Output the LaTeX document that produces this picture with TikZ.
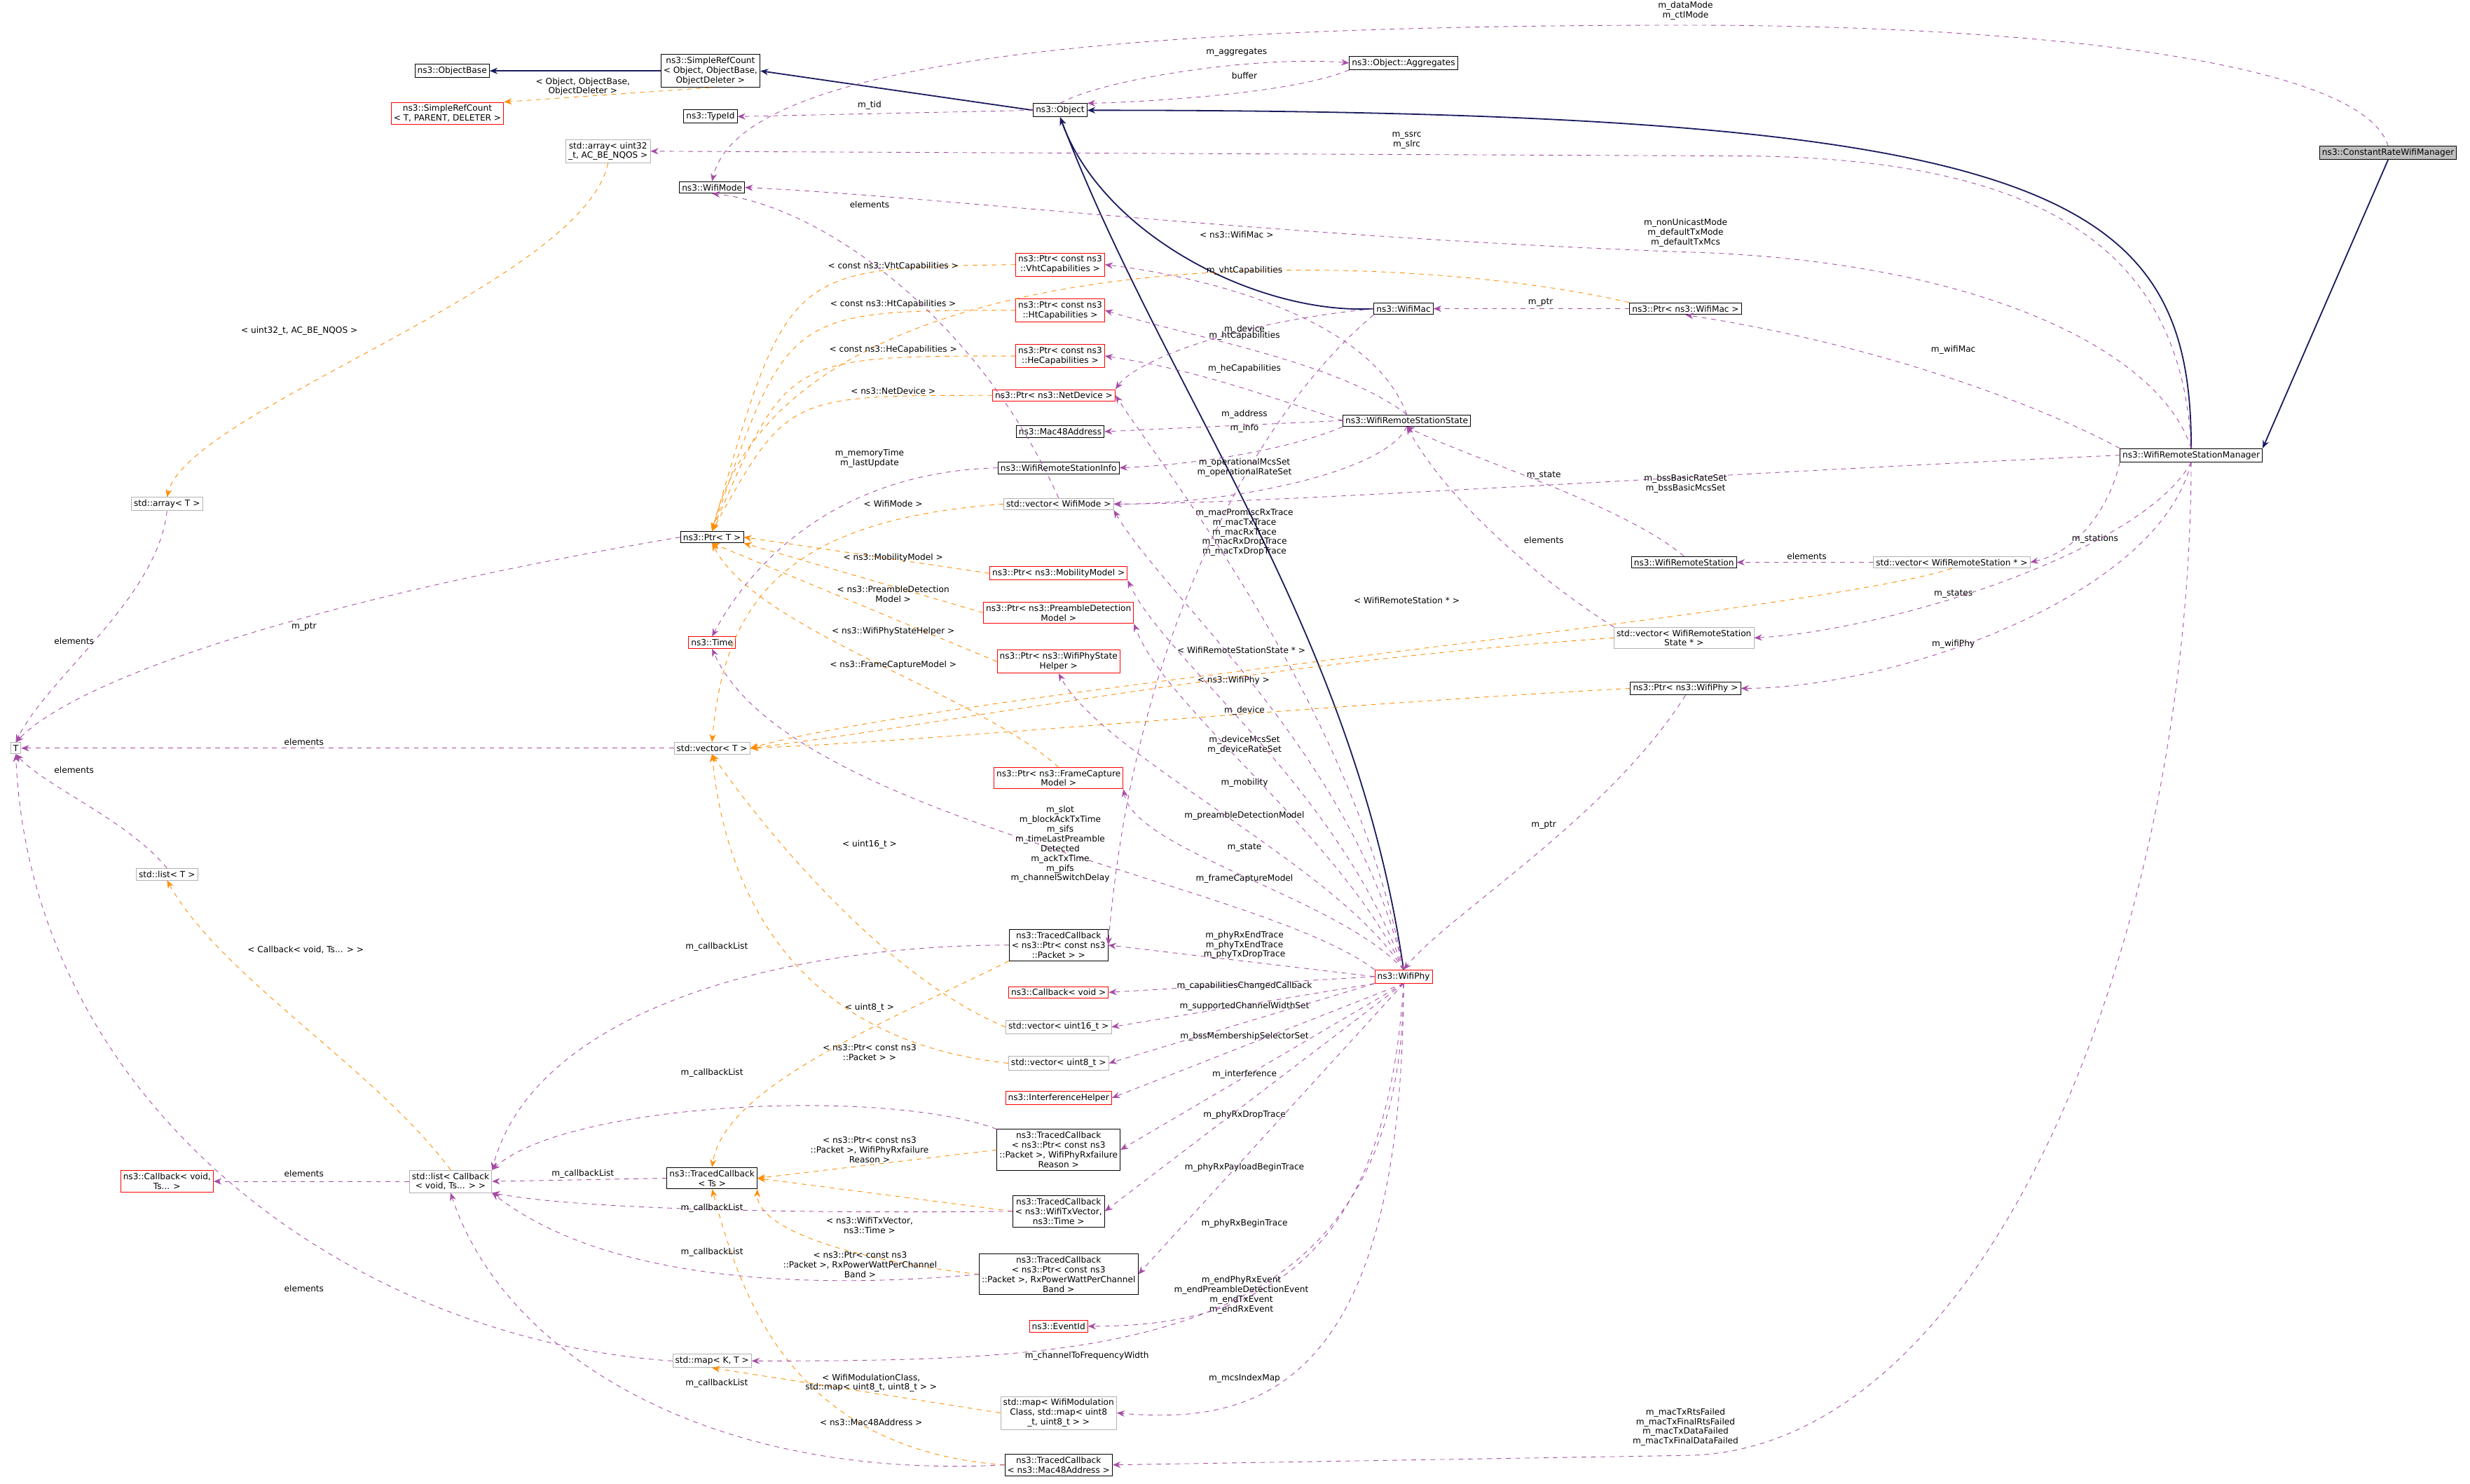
\documentclass[tikz,border=0pt]{standalone}
\usepackage{fontspec}
\setmainfont{DejaVu Sans}
\usetikzlibrary{arrows.meta}
\begin{document}
\begin{tikzpicture}[x=1pt,y=-1pt,
 every node/.style={font=\fontsize{5.4}{6.2}\selectfont},
 cls/.style={draw=black,fill=white,inner sep=1.6pt,align=center},
 red/.style={draw=red,fill=white,inner sep=1.6pt,align=center},
 gry/.style={draw=gray!60,fill=white,inner sep=1.6pt,align=center},
 inh/.style={draw=blue!30!black!90,-{Stealth[length=5pt,width=4pt]},thick},
 mem/.style={draw=violet!70,dashed,-{Stealth[length=5pt,width=4pt]}},
 tpl/.style={draw=orange!90!yellow,dashed,-{Stealth[length=5pt,width=4pt]}},
 lbl/.style={align=center,inner sep=0pt}]
\useasboundingbox (0,0) rectangle (1568,942);
% nodes
\node[cls,fill=gray!50] (crm) at (1516,97) {ns3::ConstantRateWifiManager};
\node[cls] (ob) at (287,45) {ns3::ObjectBase};
\node[cls] (src) at (451,45) {ns3::SimpleRefCount\\< Object, ObjectBase,\\ ObjectDeleter >};
\node[red] (srct) at (284,72) {ns3::SimpleRefCount\\< T, PARENT, DELETER >};
\node[cls] (tid) at (451,74) {ns3::TypeId};
\node[cls] (obj) at (673,70) {ns3::Object};
\node[cls] (agg) at (891,40) {ns3::Object::Aggregates};
\node[gry] (arr32) at (386,96) {std::array< uint32\\\_t, AC\_BE\_NQOS >};
\node[cls] (wm) at (452,119) {ns3::WifiMode};
\node[red] (vht) at (673,168) {ns3::Ptr< const ns3\\::VhtCapabilities >};
\node[red] (ht) at (673,197) {ns3::Ptr< const ns3\\::HtCapabilities >};
\node[red] (he) at (673,226) {ns3::Ptr< const ns3\\::HeCapabilities >};
\node[red] (nd) at (669,251) {ns3::Ptr< ns3::NetDevice >};
\node[cls] (mac48) at (673,274) {ns3::Mac48Address};
\node[cls] (info) at (672,297) {ns3::WifiRemoteStationInfo};
\node[gry] (vwm) at (672,320) {std::vector< WifiMode >};
\node[cls] (ptrt) at (452,341) {ns3::Ptr< T >};
\node[red] (mob) at (672,364) {ns3::Ptr< ns3::MobilityModel >};
\node[red] (pre) at (672,389) {ns3::Ptr< ns3::PreambleDetection\\Model >};
\node[red] (psh) at (672,420) {ns3::Ptr< ns3::WifiPhyState\\Helper >};
\node[red] (time) at (452,408) {ns3::Time};
\node[gry] (vt) at (452,475) {std::vector< T >};
\node[red] (fc) at (672,494) {ns3::Ptr< ns3::FrameCapture\\Model >};
\node[gry] (T) at (10,475) {T};
\node[gry] (arrt) at (106,320) {std::array< T >};
\node[gry] (listt) at (106,555) {std::list< T >};
\node[cls] (mac) at (891,196) {ns3::WifiMac};
\node[cls] (pmac) at (1070,196) {ns3::Ptr< ns3::WifiMac >};
\node[cls] (wrss) at (893,267) {ns3::WifiRemoteStationState};
\node[cls] (wrs) at (1069,357) {ns3::WifiRemoteStation};
\node[gry] (vwrs) at (1239,357) {std::vector< WifiRemoteStation * >};
\node[cls] (wrsm) at (1391,289) {ns3::WifiRemoteStationManager};
\node[gry] (vwrss) at (1069,405) {std::vector< WifiRemoteStation\\State * >};
\node[cls] (pphy) at (1070,437) {ns3::Ptr< ns3::WifiPhy >};
\node[red] (phy) at (891,620) {ns3::WifiPhy};
\node[cls] (tcp) at (672,600) {ns3::TracedCallback\\< ns3::Ptr< const ns3\\::Packet > >};
\node[red] (cbv) at (672,630) {ns3::Callback< void >};
\node[gry] (v16) at (672,652) {std::vector< uint16\_t >};
\node[gry] (v8) at (672,675) {std::vector< uint8\_t >};
\node[red] (ih) at (672,697) {ns3::InterferenceHelper};
\node[cls] (tcf) at (672,730) {ns3::TracedCallback\\< ns3::Ptr< const ns3\\::Packet >, WifiPhyRxfailure\\Reason >};
\node[cls] (tctx) at (672,769) {ns3::TracedCallback\\< ns3::WifiTxVector,\\ns3::Time >};
\node[cls] (tcrx) at (672,809) {ns3::TracedCallback\\< ns3::Ptr< const ns3\\::Packet >, RxPowerWattPerChannel\\Band >};
\node[red] (eid) at (672,842) {ns3::EventId};
\node[gry] (mapkt) at (452,864) {std::map< K, T >};
\node[gry] (mapw) at (672,897) {std::map< WifiModulation\\Class, std::map< uint8\\\_t, uint8\_t > >};
\node[cls] (tcm) at (672,930) {ns3::TracedCallback\\< ns3::Mac48Address >};
\node[cls] (tcts) at (452,748) {ns3::TracedCallback\\< Ts >};
\node[gry] (lcb) at (286,750) {std::list< Callback\\< void, Ts... > >};
\node[red] (cbts) at (106,750) {ns3::Callback< void,\\ Ts... >};
% inheritance
\draw[inh] (src) -- (ob);
\draw[inh] (obj.west) -- (src.east);
\draw[inh] (wrsm.north) .. controls (1391,120) and (1300,70) .. (obj.east);
\draw[inh] (crm.south) -- (wrsm.north east);
\draw[inh] (mac.west) .. controls (800,200) and (700,150) .. (obj.south);
\draw[inh] (phy.north) .. controls (860,400) and (740,250) .. (obj.south);
% templates
\draw[tpl] (src.south) -- (srct.north east);
\node[lbl] at (370,55) {< Object, ObjectBase,\\ObjectDeleter >};
\draw[tpl] (arr32.south) .. controls (370,180) and (120,260) .. (arrt.north);
\node[lbl] at (190,210) {< uint32\_t, AC\_BE\_NQOS >};
\draw[tpl] (pmac.north west) .. controls (900,160) and (500,140) .. (ptrt.north);
\node[lbl] at (785,149) {< ns3::WifiMac >};
\draw[tpl] (vht.west) .. controls (500,170) .. (ptrt.north);
\node[lbl] at (567,169) {< const ns3::VhtCapabilities >};
\draw[tpl] (ht.west) .. controls (500,197) .. (ptrt.north);
\node[lbl] at (567,193) {< const ns3::HtCapabilities >};
\draw[tpl] (he.west) .. controls (500,226) .. (ptrt.north);
\node[lbl] at (567,222) {< const ns3::HeCapabilities >};
\draw[tpl] (nd.west) .. controls (500,251) .. (ptrt.north);
\node[lbl] at (567,248) {< ns3::NetDevice >};
\draw[tpl] (vwm.west) .. controls (500,330) and (460,380) .. (vt.north);
\node[lbl] at (567,320) {< WifiMode >};
\draw[tpl] (mob.west) -- (ptrt.east);
\node[lbl] at (567,354) {< ns3::MobilityModel >};
\draw[tpl] (pre.west) -- (ptrt.south east);
\node[lbl] at (567,377) {< ns3::PreambleDetection\\Model >};
\draw[tpl] (psh.west) -- (ptrt.south);
\node[lbl] at (567,401) {< ns3::WifiPhyStateHelper >};
\draw[tpl] (fc.north) .. controls (620,440) and (480,400) .. (ptrt.south);
\node[lbl] at (567,422) {< ns3::FrameCaptureModel >};
\draw[tpl] (vwrs.south) .. controls (1150,390) and (600,440) .. (vt.east);
\node[lbl] at (893,381) {< WifiRemoteStation * >};
\draw[tpl] (vwrss.west) .. controls (800,420) and (600,460) .. (vt.east);
\node[lbl] at (788,413) {< WifiRemoteStationState * >};
\draw[tpl] (pphy.west) .. controls (800,450) and (600,470) .. (vt.east);
\node[lbl] at (783,432) {< ns3::WifiPhy >};
\draw[tpl] (v16.west) .. controls (560,620) and (480,520) .. (vt.south);
\node[lbl] at (552,536) {< uint16\_t >};
\draw[tpl] (v8.west) .. controls (500,660) and (460,560) .. (vt.south);
\node[lbl] at (552,640) {< uint8\_t >};
\draw[tpl] (tcp.south west) .. controls (560,650) and (460,690) .. (tcts.north);
\node[lbl] at (552,668) {< ns3::Ptr< const ns3\\::Packet > >};
\draw[tpl] (tcf.west) -- (tcts.east);
\node[lbl] at (552,730) {< ns3::Ptr< const ns3\\::Packet >, WifiPhyRxfailure\\Reason >};
\draw[tpl] (tctx.west) -- (tcts.east);
\node[lbl] at (552,778) {< ns3::WifiTxVector,\\ns3::Time >};
\draw[tpl] (tcrx.west) .. controls (540,800) and (480,780) .. (tcts.south east);
\node[lbl] at (546,803) {< ns3::Ptr< const ns3\\::Packet >, RxPowerWattPerChannel\\Band >};
\draw[tpl] (tcm.west) .. controls (500,920) and (470,820) .. (tcts.south);
\node[lbl] at (553,903) {< ns3::Mac48Address >};
\draw[tpl] (mapw.west) -- (mapkt.south);
\node[lbl] at (553,878) {< WifiModulationClass,\\std::map< uint8\_t, uint8\_t > >};
\draw[tpl] (lcb.north) .. controls (240,680) and (140,620) .. (listt.south);
\node[lbl] at (194,603) {< Callback< void, Ts... > >};
% members
\draw[mem] (obj.north) .. controls (700,50) and (800,35) .. (agg.west);
\node[lbl] at (785,33) {m\_aggregates};
\draw[mem] (agg.south west) .. controls (820,60) and (720,65) .. (obj.north east);
\node[lbl] at (790,48) {buffer};
\draw[mem] (obj.west) -- (tid.east);
\node[lbl] at (552,67) {m\_tid};
\draw[mem] (crm.north) .. controls (1500,40) and (1300,16) .. (1070,16) .. controls (700,16) and (470,40) .. (wm.north);
\node[lbl] at (1070,7) {m\_dataMode\\m\_ctlMode};
\draw[mem] (wrsm.north) .. controls (1385,160) and (1300,99) .. (1100,99) -- (arr32.east);
\node[lbl] at (893,89) {m\_ssrc\\m\_slrc};
\draw[mem] (wrsm.north) .. controls (1370,220) and (1250,165) .. (1070,160) .. controls (800,150) and (600,125) .. (wm.east);
\node[lbl] at (1070,148) {m\_nonUnicastMode\\m\_defaultTxMode\\m\_defaultTxMcs};
\draw[mem] (wrsm.north west) .. controls (1300,260) and (1200,220) .. (pmac.south);
\node[lbl] at (1240,222) {m\_wifiMac};
\draw[mem] (wrsm.west) .. controls (1100,300) and (800,320) .. (vwm.east);
\node[lbl] at (1070,307) {m\_bssBasicRateSet\\m\_bssBasicMcsSet};
\draw[mem] (wrsm.south west) .. controls (1340,320) and (1320,350) .. (vwrs.east);
\node[lbl] at (1330,342) {m\_stations};
\draw[mem] (wrsm.south) .. controls (1360,350) and (1200,400) .. (vwrss.east);
\node[lbl] at (1240,377) {m\_states};
\draw[mem] (wrsm.south) .. controls (1370,380) and (1200,437) .. (pphy.east);
\node[lbl] at (1240,409) {m\_wifiPhy};
\draw[mem] (wrsm.south) .. controls (1390,600) and (1260,922) .. (1070,924) -- (tcm.east);
\node[lbl] at (1070,906) {m\_macTxRtsFailed\\m\_macTxFinalRtsFailed\\m\_macTxDataFailed\\m\_macTxFinalDataFailed};
\draw[mem] (mac.south west) .. controls (800,260) and (720,400) .. (tcp.east);
\node[lbl] at (790,338) {m\_macPromiscRxTrace\\m\_macTxTrace\\m\_macRxTrace\\m\_macRxDropTrace\\m\_macTxDropTrace};
\draw[mem] (pmac.west) -- (mac.east);
\node[lbl] at (978,192) {m\_ptr};
\draw[mem] (mac.west) .. controls (780,205) and (720,230) .. (nd.north east);
\node[lbl] at (790,209) {m\_device};
\draw[mem] (wrss.north) .. controls (870,200) and (760,175) .. (vht.east);
\node[lbl] at (790,172) {m\_vhtCapabilities};
\draw[mem] (wrss.north) .. controls (850,230) and (760,215) .. (ht.east);
\node[lbl] at (790,213) {m\_htCapabilities};
\draw[mem] (wrss.west) .. controls (800,250) and (760,235) .. (he.east);
\node[lbl] at (790,234) {m\_heCapabilities};
\draw[mem] (wrss.west) -- (mac48.east);
\node[lbl] at (790,263) {m\_address};
\draw[mem] (wrss.south west) .. controls (820,285) and (760,295) .. (info.east);
\node[lbl] at (790,272) {m\_info};
\draw[mem] (wrss.south) .. controls (880,300) and (780,320) .. (vwm.east);
\node[lbl] at (790,297) {m\_operationalMcsSet\\m\_operationalRateSet};
\draw[mem] (wrs.north) .. controls (1030,320) and (930,290) .. (wrss.south);
\node[lbl] at (980,302) {m\_state};
\draw[mem] (vwrs.west) -- (wrs.east);
\node[lbl] at (1147,353) {elements};
\draw[mem] (vwrss.north west) .. controls (980,370) and (920,320) .. (wrss.south);
\node[lbl] at (980,343) {elements};
\draw[mem] (info.west) .. controls (520,300) and (470,370) .. (time.north);
\node[lbl] at (552,291) {m\_memoryTime\\m\_lastUpdate};
\draw[mem] (vwm.north) .. controls (620,200) and (520,130) .. (wm.south);
\node[lbl] at (552,130) {elements};
\draw[mem] (ptrt.west) .. controls (200,380) and (50,430) .. (T.north);
\node[lbl] at (193,398) {m\_ptr};
\draw[mem] (vt.west) -- (T.east);
\node[lbl] at (193,471) {elements};
\draw[mem] (arrt.south) .. controls (100,380) and (30,430) .. (T.north);
\node[lbl] at (47,407) {elements};
\draw[mem] (listt.north) .. controls (80,520) and (30,500) .. (T.south);
\node[lbl] at (47,489) {elements};
\draw[mem] (mapkt.west) .. controls (220,850) and (20,700) .. (T.south);
\node[lbl] at (193,818) {elements};
\draw[mem] (pphy.south) .. controls (1020,520) and (920,580) .. (phy.north);
\node[lbl] at (980,524) {m\_ptr};
\draw[mem] (phy.north) .. controls (860,450) and (740,300) .. (nd.east);
\node[lbl] at (790,451) {m\_device};
\draw[mem] (phy.north) .. controls (860,480) and (740,380) .. (vwm.south east);
\node[lbl] at (790,473) {m\_deviceMcsSet\\m\_deviceRateSet};
\draw[mem] (phy.north) .. controls (850,500) and (740,420) .. (mob.south east);
\node[lbl] at (790,497) {m\_mobility};
\draw[mem] (phy.north) .. controls (850,530) and (740,450) .. (pre.south east);
\node[lbl] at (790,518) {m\_preambleDetectionModel};
\draw[mem] (phy.north) .. controls (850,550) and (700,480) .. (psh.south);
\node[lbl] at (790,538) {m\_state};
\draw[mem] (phy.north) .. controls (850,570) and (720,540) .. (fc.south east);
\node[lbl] at (790,558) {m\_frameCaptureModel};
\draw[mem] (phy.north west) .. controls (800,560) and (500,520) .. (time.south);
\node[lbl] at (673,536) {m\_slot\\m\_blockAckTxTime\\m\_sifs\\m\_timeLastPreamble\\Detected\\m\_ackTxTime\\m\_pifs\\m\_channelSwitchDelay};
\draw[mem] (phy.west) -- (tcp.east);
\node[lbl] at (790,600) {m\_phyRxEndTrace\\m\_phyTxEndTrace\\m\_phyTxDropTrace};
\draw[mem] (phy.west) -- (cbv.east);
\node[lbl] at (790,626) {m\_capabilitiesChangedCallback};
\draw[mem] (phy.south west) -- (v16.east);
\node[lbl] at (790,639) {m\_supportedChannelWidthSet};
\draw[mem] (phy.south west) -- (v8.east);
\node[lbl] at (790,658) {m\_bssMembershipSelectorSet};
\draw[mem] (phy.south) -- (ih.east);
\node[lbl] at (790,682) {m\_interference};
\draw[mem] (phy.south) -- (tcf.east);
\node[lbl] at (790,708) {m\_phyRxDropTrace};
\draw[mem] (phy.south) -- (tctx.east);
\node[lbl] at (790,741) {m\_phyRxPayloadBeginTrace};
\draw[mem] (phy.south) -- (tcrx.east);
\node[lbl] at (790,777) {m\_phyRxBeginTrace};
\draw[mem] (phy.south) .. controls (880,800) and (800,842) .. (eid.east);
\node[lbl] at (788,822) {m\_endPhyRxEvent\\m\_endPreambleDetectionEvent\\m\_endTxEvent\\m\_endRxEvent};
\draw[mem] (phy.south) .. controls (890,860) and (700,864) .. (mapkt.east);
\node[lbl] at (690,861) {m\_channelToFrequencyWidth};
\draw[mem] (phy.south) .. controls (890,880) and (800,905) .. (mapw.east);
\node[lbl] at (790,875) {m\_mcsIndexMap};
\draw[mem] (tcp.west) .. controls (500,600) and (340,640) .. (lcb.north east);
\node[lbl] at (455,601) {m\_callbackList};
\draw[mem] (tcf.north west) .. controls (560,690) and (360,700) .. (lcb.north east);
\node[lbl] at (452,681) {m\_callbackList};
\draw[mem] (tcts.west) -- (lcb.east);
\node[lbl] at (370,745) {m\_callbackList};
\draw[mem] (tctx.west) .. controls (560,770) and (380,770) .. (lcb.south east);
\node[lbl] at (452,767) {m\_callbackList};
\draw[mem] (tcrx.west) .. controls (500,820) and (380,810) .. (lcb.south east);
\node[lbl] at (452,795) {m\_callbackList};
\draw[mem] (tcm.west) .. controls (450,940) and (320,860) .. (lcb.south);
\node[lbl] at (455,878) {m\_callbackList};
\draw[mem] (lcb.west) -- (cbts.east);
\node[lbl] at (193,745) {elements};
\end{tikzpicture}
\end{document}
